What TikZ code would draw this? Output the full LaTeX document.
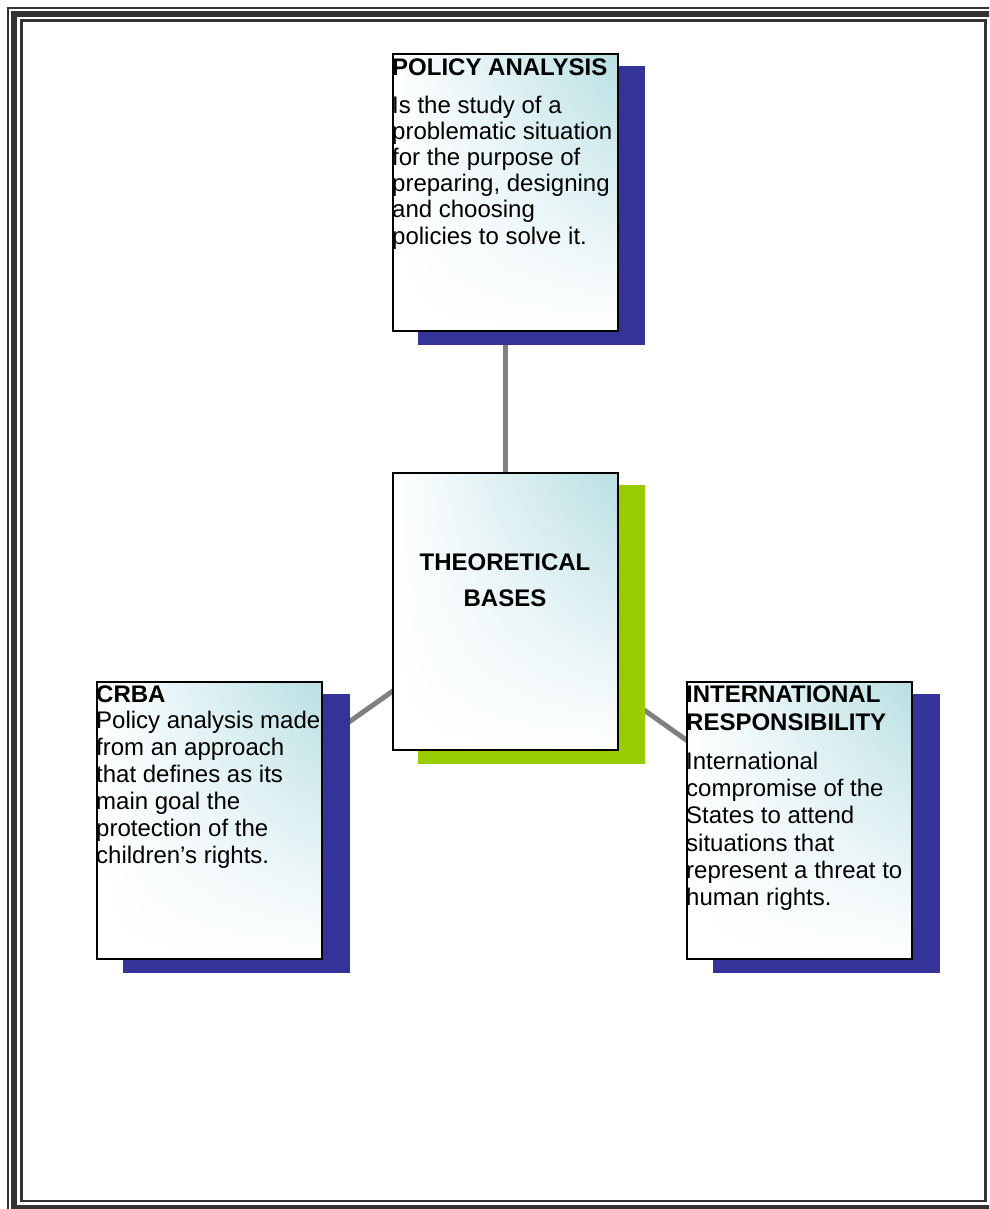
\documentclass[tikz,border=0pt]{standalone}
\usepackage{fontspec}
\setmainfont{Liberation Sans}
\usetikzlibrary{shadings}
\definecolor{framegray}{RGB}{51,51,51}
\definecolor{boxteal}{RGB}{184,223,227}
\definecolor{shadowblue}{RGB}{51,51,153}
\definecolor{shadowgreen}{RGB}{153,204,0}
\definecolor{conngray}{RGB}{128,128,128}
\pgfdeclarelayer{connlayer}
\pgfdeclarelayer{shadowlayer}
\pgfsetlayers{connlayer,shadowlayer,main}
\begin{document}
\begin{tikzpicture}[x=1pt,y=-1pt,
  framethin/.style={draw=framegray,line width=2pt},
  framethick/.style={draw=framegray,line width=6pt},
  infobox/.style={rectangle,draw=black,line width=1.6pt,minimum width=225pt,minimum height=277pt,inner sep=0pt,outer sep=0pt,anchor=north west,shade,upper right=boxteal,upper left=white,lower left=white,lower right=white},
  conn/.style={draw=conngray,line width=5pt},
  headtxt/.style={font=\bfseries\fontsize{24}{#1}\selectfont,inner sep=0pt,anchor=north west,align=left},
  bodytxt/.style={font=\fontsize{24}{#1}\selectfont,inner sep=0pt,anchor=north west,align=left},
]
\useasboundingbox (0,0) rectangle (989,1209);
\clip (0,0) rectangle (989,1209);

% page frame
\draw[framethin] (8.3,7.7) rectangle (998.7,1214);
\draw[framethick] (14.3,13.7) rectangle (992.7,1208);
\draw[framethin,line width=2.5pt] (21.3,20.7) rectangle (985.7,1201);

% boxes
\node[infobox] (pa) at (393,54) {};
\node[infobox] (tb) at (393,473) {};
\node[infobox] (cr) at (97,682) {};
\node[infobox] (ir) at (687,682) {};

% texts
\node[headtxt=28] (pah) at (392,55.5) {\rule{0pt}{20pt}POLICY ANALYSIS};
\node[bodytxt=26.2] (pab) at (392,92.9) {\rule{0pt}{20pt}Is the study of a\\problematic situation\\for the purpose of\\preparing, designing\\and choosing\\policies to solve it.};

\node[headtxt=36,anchor=north,align=center] (tbt) at (505,550) {\rule{0pt}{20pt}THEORETICAL\\BASES};

\node[headtxt=28] (crh) at (96,682) {\rule{0pt}{20pt}CRBA};
\node[bodytxt=26.9] (crb) at (96,708.6) {\rule{0pt}{20pt}Policy analysis made\\from an approach\\that defines as its\\main goal the\\protection of the\\children’s rights.};

\node[headtxt=28.3] (irh) at (686,682.3) {\rule{0pt}{20pt}INTERNATIONAL\\RESPONSIBILITY};
\node[bodytxt=27.3] (irb) at (686,748.9) {\rule{0pt}{20pt}International\\compromise of the\\States to attend\\situations that\\represent a threat to\\human rights.};

% shadows
\begin{pgfonlayer}{shadowlayer}
\fill[shadowblue] ([shift={(25,12)}]pa.north west) rectangle ([shift={(27,14)}]pa.south east);
\fill[shadowgreen] ([shift={(25,12)}]tb.north west) rectangle ([shift={(27,14)}]tb.south east);
\fill[shadowblue] ([shift={(26,12)}]cr.north west) rectangle ([shift={(28,14)}]cr.south east);
\fill[shadowblue] ([shift={(26,12)}]ir.north west) rectangle ([shift={(28,14)}]ir.south east);
\end{pgfonlayer}

% connectors
\begin{pgfonlayer}{connlayer}
\draw[conn] (tb.center) -- (pa.center);
\draw[conn] (tb.center) -- (cr.center);
\draw[conn] (tb.center) -- (ir.center);
\end{pgfonlayer}
\end{tikzpicture}
\end{document}
